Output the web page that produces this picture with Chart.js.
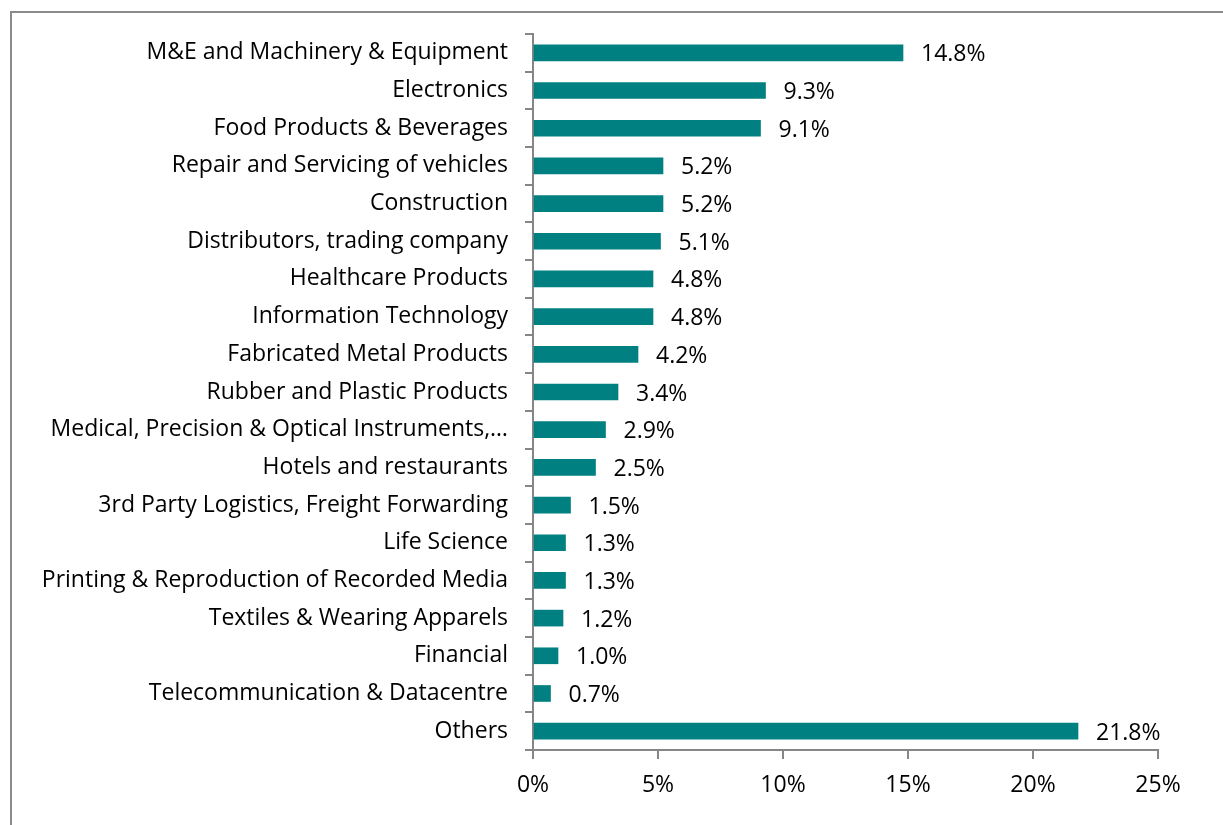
<!DOCTYPE html>
<html>
<head>
<meta charset="utf-8">
<script src="https://cdn.jsdelivr.net/npm/chart.js@4/dist/chart.umd.min.js"></script>
<style>
  html, body { margin: 0; padding: 0; background: #fff; overflow: hidden; }
  #frame { position: absolute; left: 10px; top: 11px; width: 1300px; height: 900px; border: 2px solid #8a8a8a; }
  #wrap { position: absolute; left: 0; top: 0; width: 1223px; height: 825px; }
</style>
</head>
<body>
<div id="frame"></div>
<div id="wrap"><canvas id="chart" width="1223" height="825"></canvas></div>
<script>
const categories = [
  'M&E and Machinery & Equipment',
  'Electronics',
  'Food Products & Beverages',
  'Repair and Servicing of vehicles',
  'Construction',
  'Distributors, trading company',
  'Healthcare Products',
  'Information Technology',
  'Fabricated Metal Products',
  'Rubber and Plastic Products',
  'Medical, Precision & Optical Instruments,…',
  'Hotels and restaurants',
  '3rd Party Logistics, Freight Forwarding',
  'Life Science',
  'Printing & Reproduction of Recorded Media',
  'Textiles & Wearing Apparels',
  'Financial',
  'Telecommunication & Datacentre',
  'Others'
];
const shares = [14.8, 9.3, 9.1, 5.2, 5.2, 5.1, 4.8, 4.8, 4.2, 3.4, 2.9, 2.5, 1.5, 1.3, 1.3, 1.2, 1.0, 0.7, 21.8];
const xTicks = [0, 5, 10, 15, 20, 25];

const FONT = '"Open Sans", Lato, sans-serif';
const FONT_SIZE = 23;

// draws the value text just right of each bar
const barLabels = {
  id: 'barLabels',
  afterDatasetsDraw(chart) {
    const ctx = chart.ctx;
    const meta = chart.getDatasetMeta(0);
    ctx.save();
    ctx.font = FONT_SIZE + 'px ' + FONT;
    ctx.fillStyle = '#000';
    ctx.textAlign = 'left';
    ctx.textBaseline = 'middle';
    meta.data.forEach((bar, i) => {
      ctx.fillText(shares[i].toFixed(1) + '%', bar.x + 18, bar.y + 2);
    });
    ctx.restore();
  }
};

new Chart(document.getElementById('chart'), {
  type: 'bar',
  data: {
    labels: categories,
    datasets: [{
      data: shares,
      backgroundColor: '#008080',
      borderWidth: 0,
      barThickness: 16
    }]
  },
  options: {
    indexAxis: 'y',
    responsive: false,
    animation: false,
    devicePixelRatio: 1,
    layout: { padding: { top: 34, right: 65, bottom: 0, left: 0 } },
    plugins: {
      legend: { display: false },
      tooltip: { enabled: false }
    },
    scales: {
      x: {
        min: 0,
        max: 25,
        afterBuildTicks(scale) { scale.ticks = xTicks.map(v => ({ value: v })); },
        afterFit(scale) { scale.height = 75; },
        border: { color: '#868686', width: 2 },
        grid: { drawOnChartArea: false, drawTicks: true, tickLength: 9, color: '#868686', lineWidth: 2 },
        ticks: {
          padding: 13,
          color: '#000',
          font: { family: FONT, size: FONT_SIZE },
          callback: v => v + '%'
        }
      },
      y: {
        afterFit(scale) { scale.width = 533; },
        border: { color: '#868686', width: 2 },
        grid: { drawOnChartArea: false, drawTicks: true, tickLength: 8, color: '#868686', lineWidth: 2, offset: true },
        ticks: {
          padding: 17,
          color: '#000',
          autoSkip: false,
          font: { family: FONT, size: FONT_SIZE }
        }
      }
    }
  },
  plugins: [barLabels]
});
</script>
</body>
</html>
